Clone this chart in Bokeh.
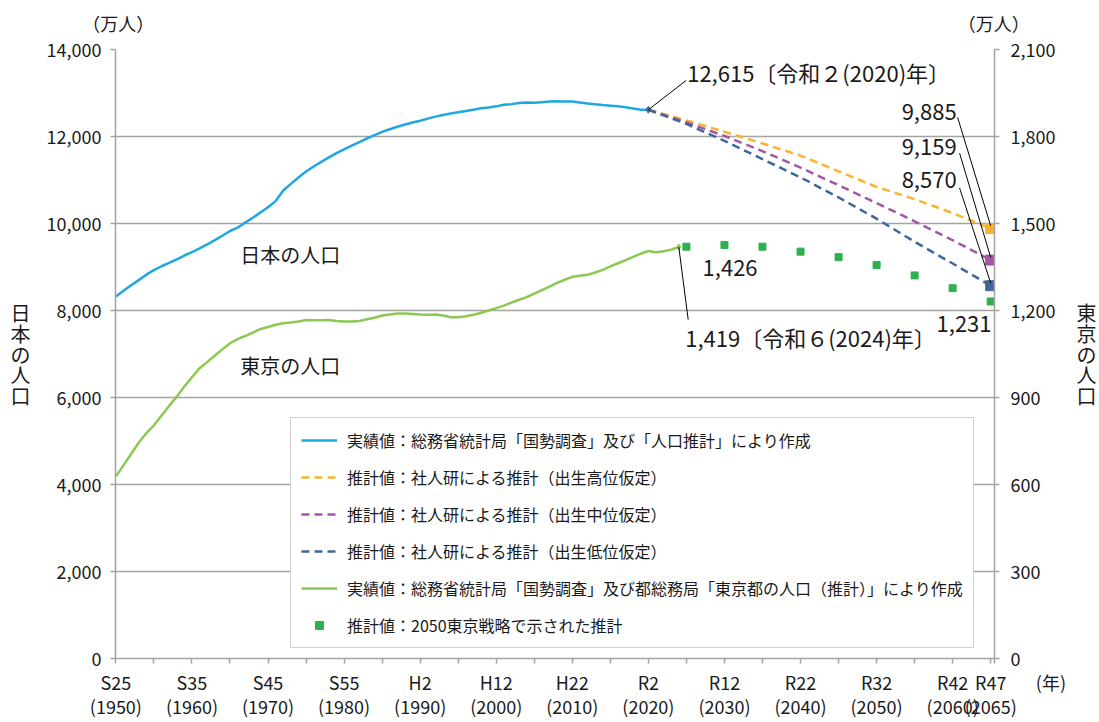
from bokeh.plotting import figure
from bokeh.models import (Range1d, LinearAxis, FixedTicker, NumeralTickFormatter,
                          Label, Legend, LegendItem)
from bokeh.embed import file_html
from bokeh.resources import INLINE

CJK = "Noto Sans CJK JP"
GRAY = "#a3a3a3"
TXT = "#1a1a1a"

# ---------------- data ----------------
# Japan population (万人), 1950-2020
jp_pop = [8320, 8454, 8581, 8698, 8824, 8928, 9017, 9093, 9177, 9264,
          9342, 9429, 9518, 9616, 9718, 9828, 9904, 10020, 10133, 10254,
          10372, 10515, 10760, 10910, 11057, 11194, 11309, 11417, 11519, 11616,
          11706, 11790, 11873, 11954, 12031, 12105, 12166, 12224, 12275, 12321,
          12361, 12410, 12457, 12494, 12527, 12557, 12586, 12616, 12647, 12667,
          12693, 12729, 12744, 12769, 12779, 12777, 12790, 12803, 12808, 12803,
          12806, 12783, 12759, 12741, 12724, 12709, 12693, 12671, 12644, 12617,
          12615]
jp_years = list(range(1950, 1950 + len(jp_pop)))

# Tokyo population (万人), 1950-2024
tk_pop = [628, 666, 705, 744, 777, 804, 838, 871, 903, 938,
          970, 1001, 1022, 1045, 1066, 1087, 1101, 1112, 1124, 1136,
          1143, 1151, 1156, 1159, 1162, 1167, 1166, 1166, 1167, 1164,
          1162, 1162, 1164, 1170, 1175, 1183, 1186, 1190, 1190, 1188,
          1186, 1185, 1186, 1183, 1177, 1177, 1180, 1185, 1192, 1200,
          1208, 1217, 1227, 1237, 1246, 1258, 1270, 1282, 1295, 1306,
          1316, 1320, 1323, 1331, 1340, 1352, 1363, 1374, 1385, 1396,
          1405, 1401, 1404, 1410, 1419]
tk_years = list(range(1950, 1950 + len(tk_pop)))

# IPSS projections (万人)
proj_years = [2020, 2025, 2030, 2035, 2040, 2045, 2050, 2055, 2060, 2065]
proj_high = [12615, 12370, 12110, 11840, 11560, 11200, 10840, 10560, 10240, 9885]
proj_mid = [12615, 12326, 12012, 11664, 11284, 10880, 10469, 10051, 9615, 9159]
proj_low = [12615, 12290, 11900, 11480, 11060, 10600, 10110, 9580, 9080, 8570]

# Tokyo projection (2050東京戦略)
tk_proj_years = [2025, 2030, 2035, 2040, 2045, 2050, 2055, 2060, 2065]
tk_proj = [1420, 1426, 1420, 1403, 1384, 1357, 1321, 1277, 1231]

era_years = [1950, 1960, 1970, 1980, 1990, 2000, 2010, 2020, 2030, 2040, 2050, 2060, 2065]
era_names = ["S25", "S35", "S45", "S55", "H2", "H12", "H22", "R2", "R12", "R22", "R32", "R42", "R47"]
left_ticks = list(range(0, 14001, 2000))
right_ticks = list(range(0, 2101, 300))
unit_text = "（万人）"
year_unit = "(年)"
left_title = "日本の人口"
right_title = "東京の人口"

legend_labels = [
    "実績値：総務省統計局「国勢調査」及び「人口推計」により作成",
    "推計値：社人研による推計（出生高位仮定）",
    "推計値：社人研による推計（出生中位仮定）",
    "推計値：社人研による推計（出生低位仮定）",
    "実績値：総務省統計局「国勢調査」及び都総務局「東京都の人口（推計）」により作成",
    "推計値：2050東京戦略で示された推計",
]

C_JP = "#1fa8e0"
C_HI = "#f9b233"
C_MID = "#a455a8"
C_LOW = "#3f679c"
C_TK = "#8cc852"
C_TKP = "#2fb050"

# ---------------- layout helpers (page pixel -> data) ----------------
W, H = 1099, 722
X0, X1 = 1949.95, 2065.5
Y1L, Y1R = 14000, 2100
FL, FR, FT, FB = 115, 996, 49, 660


def xd(px):
    return X0 + (px - FL) / (FR - FL) * (X1 - X0)


def yl(py):
    return (FB - py) / (FB - FT) * Y1L


def yr(py):
    return (FB - py) / (FB - FT) * Y1R


p = figure(width=W, height=H, x_range=Range1d(X0, X1), y_range=Range1d(0, Y1L),
           output_backend="svg", toolbar_location=None,
           min_border_left=FL, min_border_right=W - FR, min_border_top=FT,
           min_border_bottom=H - FB)
p.extra_y_ranges = {"tokyo": Range1d(0, Y1R)}
p.outline_line_color = None
p.background_fill_color = "white"
p.border_fill_color = "white"


def style_axis(ax, standoff, size="18px"):
    ax.axis_line_color = GRAY
    ax.axis_line_width = 1.5
    ax.major_tick_line_color = GRAY
    ax.major_tick_line_width = 1.5
    ax.major_tick_out = 5
    ax.major_tick_in = 0
    ax.minor_tick_line_color = None
    ax.major_label_text_font = CJK
    ax.major_label_text_font_size = size
    ax.major_label_text_color = TXT
    ax.major_label_standoff = standoff


def vertical_title(ax, text, standoff):
    ax.axis_label = "\n".join(text)
    ax.axis_label_orientation = "horizontal"
    ax.axis_label_text_font = CJK
    ax.axis_label_text_font_size = "20px"
    ax.axis_label_text_font_style = "normal"
    ax.axis_label_text_color = TXT
    ax.axis_label_text_line_height = 0.72
    ax.axis_label_standoff = standoff


yax = p.yaxis[0]
yax.ticker = FixedTicker(ticks=left_ticks)
yax.formatter = NumeralTickFormatter(format="0,0")
style_axis(yax, 9)
vertical_title(yax, left_title, 13)

rax = LinearAxis(y_range_name="tokyo", ticker=FixedTicker(ticks=right_ticks),
                 formatter=NumeralTickFormatter(format="0,0"))
style_axis(rax, 11)
vertical_title(rax, right_title, 18)
p.add_layout(rax, "right")

# bottom axis: 5-year ticks, era labels every 10 years, unit at the right end
xax = p.xaxis[0]
xticks = list(range(1950, 2066, 5)) + [X1]
xax.ticker = FixedTicker(ticks=xticks)
overrides = {t: "" for t in range(1950, 2066, 5)}
for yv, nm in zip(era_years, era_names):
    overrides[yv] = f"{nm}\n({yv})"
overrides[X1] = "\u00a0" * 28 + year_unit
xax.major_label_overrides = overrides
style_axis(xax, 5)
xax.major_label_text_line_height = 0.95

# top axis: only carries the unit labels of both value axes
tax = LinearAxis(ticker=FixedTicker(ticks=[1950.3, 2065.4]),
                 major_label_overrides={1950.3: unit_text, 2065.4: unit_text})
style_axis(tax, 14)
tax.axis_line_color = None
tax.major_tick_line_color = None
tax.major_tick_out = 0
p.add_layout(tax, "above")

p.xgrid.visible = False
p.ygrid.ticker = FixedTicker(ticks=left_ticks)
p.ygrid.grid_line_color = GRAY
p.ygrid.grid_line_width = 1.5

# ---------------- series ----------------
r_jp = p.line(jp_years, jp_pop, color=C_JP, line_width=2.5)
r_hi = p.line(proj_years, proj_high, color=C_HI, line_width=2.5, line_dash="8 5")
r_mid = p.line(proj_years, proj_mid, color=C_MID, line_width=2.5, line_dash="8 5")
r_low = p.line(proj_years, proj_low, color=C_LOW, line_width=2.5, line_dash="8 5")
for arr, c in ((proj_high, C_HI), (proj_mid, C_MID), (proj_low, C_LOW)):
    p.scatter([proj_years[-1]], [arr[-1]], marker="square", size=10, color=c)
p.scatter([proj_years[0]], [proj_mid[0]], marker="diamond", size=7, color=C_LOW)

r_tk = p.line(tk_years, tk_pop, color=C_TK, line_width=2.5, y_range_name="tokyo")
p.scatter([tk_years[-1]], [tk_pop[-1]], marker="diamond", size=6, color=C_TK, y_range_name="tokyo")
r_tkp = p.scatter(tk_proj_years, tk_proj, marker="square", size=7, color=C_TKP,
                  y_range_name="tokyo")

# ---------------- leader lines ----------------
lx0 = [proj_years[0], xd(959), xd(961), xd(961)]
ly0 = [proj_mid[0], yl(117), yl(153), yl(188)]
lx1 = [xd(687), proj_years[-1], proj_years[-1], proj_years[-1]]
ly1 = [yl(80), proj_high[-1] + 60, proj_mid[-1] + 60, proj_low[-1] + 60]
p.segment(lx0, ly0, lx1, ly1, line_color="black", line_width=1)
p.segment([tk_years[-1]], [tk_pop[-1]], [xd(689)], [yr(320)], line_color="black",
          line_width=1, y_range_name="tokyo")


def lab(x, y, text, size="22px", align="left"):
    p.add_layout(Label(x=x, y=y, text=text, text_font=CJK, text_font_size=size,
                       text_align=align, text_baseline="middle", text_color=TXT))


lab(xd(688), yl(72), f"{proj_mid[0]:,}〔令和２(2020)年〕")
lab(xd(958), yl(112), f"{proj_high[-1]:,}", align="right")
lab(xd(958), yl(147), f"{proj_mid[-1]:,}", align="right")
lab(xd(958), yl(180), f"{proj_low[-1]:,}", align="right")
lab(xd(731), yl(268), f"{max(tk_proj):,}", align="center")
lab(xd(686), yl(337), f"{tk_pop[-1]:,}〔令和６(2024)年〕")
lab(xd(993), yl(324), f"{tk_proj[-1]:,}", align="right")

lab(xd(240), yl(255), "日本の人口", size="20px")
lab(xd(240), yl(366), "東京の人口", size="20px")

# ---------------- legend ----------------
legend = Legend(items=[LegendItem(label=l, renderers=[r]) for l, r in
                       zip(legend_labels, [r_jp, r_hi, r_mid, r_low, r_tk, r_tkp])],
                location=(175, 10), margin=0, padding=10, spacing=13,
                glyph_width=36, glyph_height=20, label_height=20, label_standoff=10,
                label_text_font=CJK, label_text_font_size="16px", label_text_color=TXT,
                border_line_color=GRAY, border_line_width=1.5,
                background_fill_color="white", background_fill_alpha=1.0)
p.add_layout(legend)

open("out.html", "w").write(file_html(p, INLINE))
